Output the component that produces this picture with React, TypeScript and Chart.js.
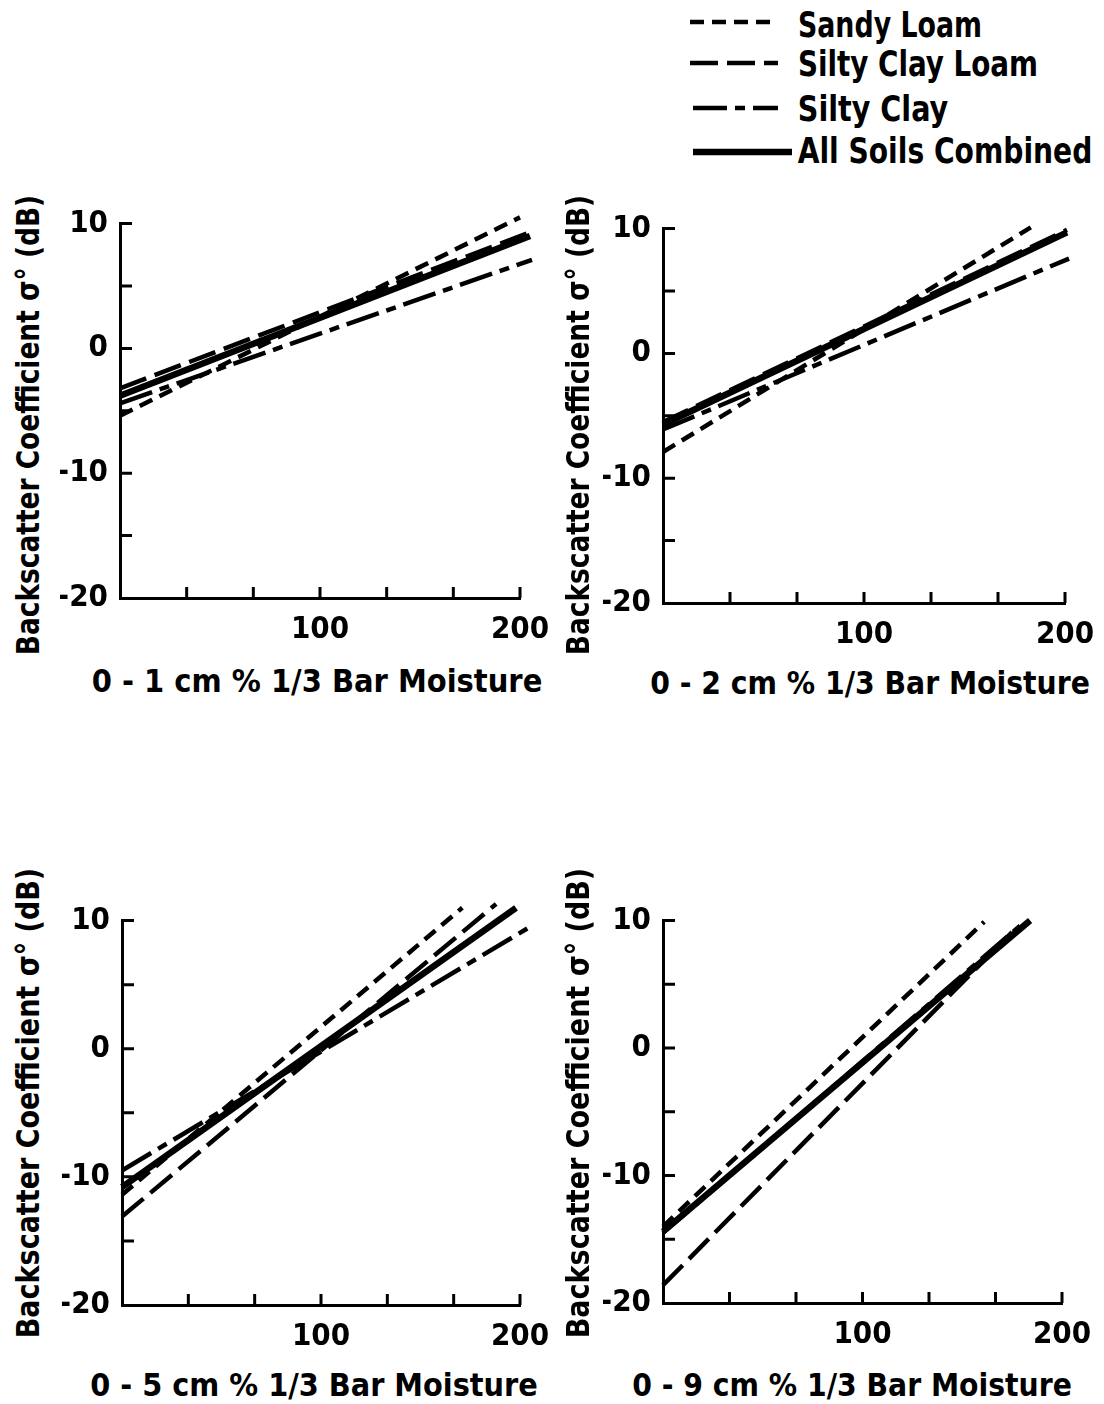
import React, { useEffect, useLayoutEffect, useRef, useState } from 'react';
import { Chart, registerables } from 'chart.js';

Chart.register(...registerables);

const FONT = '"Liberation Sans Narrow", "DejaVu Sans Condensed", "DejaVu Sans", sans-serif';

// ---------- data ----------
const soilNames = ['Sandy Loam', 'Silty Clay Loam', 'Silty Clay', 'All Soils Combined'];
const depthTitles = [
  '0 - 1 cm % 1/3 Bar Moisture',
  '0 - 2 cm % 1/3 Bar Moisture',
  '0 - 5 cm % 1/3 Bar Moisture',
  '0 - 9 cm % 1/3 Bar Moisture',
];
const yAxisTitle = 'Backscatter Coefficient σ° (dB)';

const xTickValues = [0, 33.333, 66.667, 100, 133.333, 166.667, 200];
const xTickLabels = ['', '', '', '100', '', '', '200'];
const yTickValues = [-20, -15, -10, -5, 0, 5, 10];
const yTickLabels = ['-20', '', '-10', '', '0', '', '10'];

// regression lines: [x, dB] at both ends
const p1SandyLoam = [[0, -5.4], [200, 10.5]];
const p1SiltyClayLoam = [[0, -3.2], [205, 9.3]];
const p1SiltyClay = [[0, -4.4], [206, 7.1]];
const p1AllSoils = [[0, -3.8], [205, 9.0]];

const p2SandyLoam = [[0, -7.9], [183, 10.1]];
const p2SiltyClayLoam = [[0, -5.5], [201, 9.9]];
const p2SiltyClay = [[0, -6.1], [202, 7.6]];
const p2AllSoils = [[0, -5.7], [201, 9.7]];

const p3SandyLoam = [[0, -11.4], [171, 11.0]];
const p3SiltyClayLoam = [[0, -13.1], [188, 11.3]];
const p3SiltyClay = [[0, -9.5], [206, 9.6]];
const p3AllSoils = [[0, -10.8], [198, 11.0]];

const p4SandyLoam = [[0, -14.0], [161, 9.9]];
const p4SiltyClayLoam = [[0, -18.6], [175, 9.1]];
const p4SiltyClay = [[0, -14.5], [179, 9.6]];
const p4AllSoils = [[0, -14.4], [184, 10.0]];

const panelSeries = [
  [p1SandyLoam, p1SiltyClayLoam, p1SiltyClay, p1AllSoils],
  [p2SandyLoam, p2SiltyClayLoam, p2SiltyClay, p2AllSoils],
  [p3SandyLoam, p3SiltyClayLoam, p3SiltyClay, p3AllSoils],
  [p4SandyLoam, p4SiltyClayLoam, p4SiltyClay, p4AllSoils],
];

// ---------- styles ----------
const soilDash = [[14, 8], [28, 9], [34, 8, 10, 8], []];
const soilWidth = [4.5, 4.5, 4.5, 6.5];

// chart areas (page px): left, right, top, bottom
const panelBoxes = [
  { L: 120, R: 520, T: 218, B: 598 },
  { L: 663, R: 1065, T: 223, B: 603 },
  { L: 122, R: 520, T: 915, B: 1305 },
  { L: 663, R: 1062, T: 915, B: 1303 },
];
const xTitlePos = [
  { cx: 317, cy: 681, len: 451 },
  { cx: 870, cy: 683, len: 440 },
  { cx: 314, cy: 1385, len: 448 },
  { cx: 852, cy: 1385, len: 440 },
];
const yTitlePos = [
  { cx: 28, cy: 425, len: 460 },
  { cx: 578, cy: 425, len: 460 },
  { cx: 28, cy: 1103, len: 470 },
  { cx: 578, cy: 1103, len: 470 },
];

const inwardTicks = {
  id: 'inwardTicks',
  afterDraw(chart: any) {
    const { ctx, chartArea, scales } = chart;
    ctx.save();
    ctx.strokeStyle = '#000';
    ctx.lineWidth = 3;
    ctx.beginPath();
    scales.x.ticks.forEach((t: any) => {
      if (t.value <= 0) return;
      const px = scales.x.getPixelForValue(t.value);
      ctx.moveTo(px, chartArea.bottom);
      ctx.lineTo(px, chartArea.bottom - 11);
    });
    scales.y.ticks.forEach((t: any) => {
      if (t.value <= -20) return;
      const py = scales.y.getPixelForValue(t.value);
      ctx.moveTo(chartArea.left, py);
      ctx.lineTo(chartArea.left + 12, py);
    });
    ctx.stroke();
    ctx.restore();
  },
};

function Panel({ index }: { index: number }) {
  const ref = useRef<HTMLCanvasElement>(null);
  const box = panelBoxes[index];
  const left = box.L - 60;
  const top = box.T - 25;
  const width = box.R - box.L + 105;
  const height = box.B - box.T + 80;
  useEffect(() => {
    if (!ref.current) return;
    const tickFont = { family: FONT, size: 31, weight: 'bold' as const };
    const chart = new Chart(ref.current, {
      type: 'line',
      data: {
        datasets: panelSeries[index].map((pts, i) => ({
          label: soilNames[i],
          data: pts.map(([x, y]) => ({ x, y })),
          borderColor: '#000',
          borderWidth: soilWidth[i],
          borderDash: soilDash[i],
          borderCapStyle: 'butt',
          pointRadius: 0,
          fill: false,
          tension: 0,
          clip: false,
        })),
      },
      options: {
        animation: false,
        responsive: false,
        maintainAspectRatio: false,
        devicePixelRatio: 1,
        layout: { padding: { left: 0, top: 25, right: 45, bottom: 0 } },
        plugins: { legend: { display: false }, tooltip: { enabled: false } },
        scales: {
          x: {
            type: 'linear',
            min: 0,
            max: 200,
            afterBuildTicks: (s: any) => {
              s.ticks = xTickValues.map((v) => ({ value: v }));
            },
            afterFit: (s: any) => {
              s.height = 55;
            },
            ticks: {
              callback: (_v: any, i: number) => xTickLabels[i],
              font: tickFont,
              color: '#000',
              padding: 13,
              maxRotation: 0,
              autoSkip: false,
            },
            grid: { display: false, drawTicks: false },
            border: { display: true, width: 3, color: '#000' },
          },
          y: {
            type: 'linear',
            min: -20,
            max: 10,
            afterBuildTicks: (s: any) => {
              s.ticks = yTickValues.map((v) => ({ value: v }));
            },
            afterFit: (s: any) => {
              s.width = 60;
            },
            ticks: {
              callback: (_v: any, i: number) => yTickLabels[i],
              font: tickFont,
              color: '#000',
              padding: 12,
              autoSkip: false,
            },
            grid: { display: false, drawTicks: false },
            border: { display: true, width: 3, color: '#000' },
          },
        },
      } as any,
      plugins: [inwardTicks],
    });
    return () => chart.destroy();
  }, [index]);
  return (
    <canvas
      ref={ref}
      width={width}
      height={height}
      style={{ position: 'absolute', left, top, width, height }}
    />
  );
}

function FitText({ text, cx, cy, len, size, rotate }: { text: string; cx: number; cy: number; len: number; size: number; rotate?: boolean }) {
  const ref = useRef<HTMLSpanElement>(null);
  const [scale, setScale] = useState(1);
  useLayoutEffect(() => {
    if (ref.current) {
      const w = ref.current.offsetWidth;
      if (w) setScale(len / w);
    }
  }, [text, len, size]);
  return (
    <span
      ref={ref}
      style={{
        position: 'absolute',
        left: cx,
        top: cy,
        whiteSpace: 'nowrap',
        fontFamily: FONT,
        fontWeight: 'bold',
        fontSize: size,
        lineHeight: 1,
        color: '#000',
        transformOrigin: 'center',
        transform: `translate(-50%, -50%) rotate(${rotate ? -90 : 0}deg) scaleX(${scale})`,
      }}
    >
      {text}
    </span>
  );
}

const legendRows = [
  { y: 22, x1: 690, x2: 778, tcx: 890, tcy: 25, tlen: 184 },
  { y: 63, x1: 690, x2: 778, tcx: 918, tcy: 64, tlen: 240 },
  { y: 108, x1: 693, x2: 778, tcx: 873, tcy: 109, tlen: 150 },
  { y: 152, x1: 693, x2: 792, tcx: 945, tcy: 151, tlen: 295 },
];

function Legend() {
  return (
    <>
      <svg width={1104} height={180} style={{ position: 'absolute', left: 0, top: 0 }}>
        {legendRows.map((r, i) => (
          <line
            key={i}
            x1={r.x1}
            x2={r.x2}
            y1={r.y}
            y2={r.y}
            stroke="#000"
            strokeWidth={soilWidth[i]}
            strokeDasharray={soilDash[i].length ? soilDash[i].join(' ') : undefined}
          />
        ))}
      </svg>
      {legendRows.map((r, i) => (
        <FitText key={i} text={soilNames[i]} cx={r.tcx} cy={r.tcy} len={r.tlen} size={35} />
      ))}
    </>
  );
}

export default function App() {
  return (
    <div style={{ position: 'absolute', left: 0, top: 0, width: 1104, height: 1404, background: '#fff', overflow: 'hidden' }}>
      {[0, 1, 2, 3].map((i) => (
        <Panel key={i} index={i} />
      ))}
      {[0, 1, 2, 3].map((i) => (
        <FitText key={'x' + i} text={depthTitles[i]} cx={xTitlePos[i].cx} cy={xTitlePos[i].cy} len={xTitlePos[i].len} size={32} />
      ))}
      {[0, 1, 2, 3].map((i) => (
        <FitText key={'y' + i} text={yAxisTitle} cx={yTitlePos[i].cx} cy={yTitlePos[i].cy} len={yTitlePos[i].len} size={32} rotate />
      ))}
      <Legend />
    </div>
  );
}
